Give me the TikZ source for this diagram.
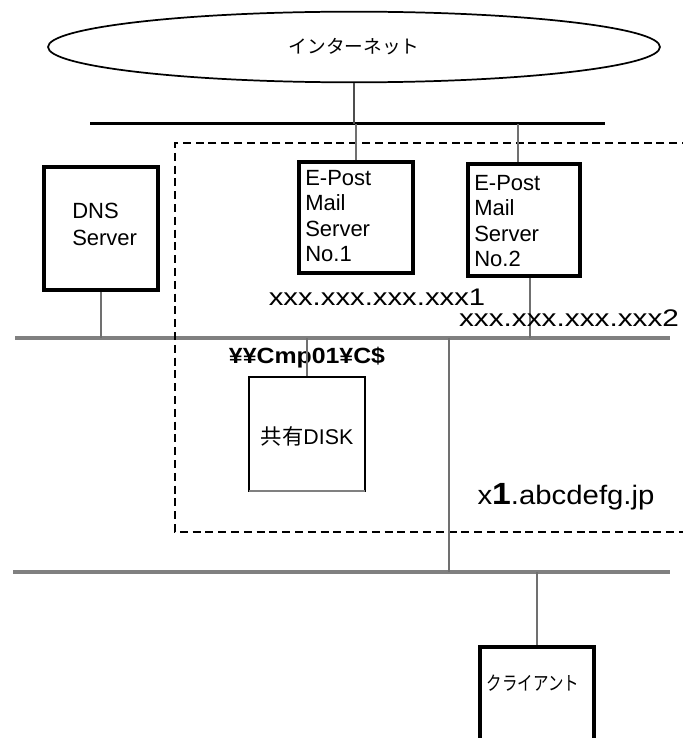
\documentclass[tikz,border=0pt]{standalone}
\usepackage{fontspec}
\setmainfont{Liberation Sans}
\newfontfamily\cjk{Noto Sans CJK JP}
\usetikzlibrary{shapes.geometric,calc}
\definecolor{busgray}{HTML}{808080}
\definecolor{stubgray}{HTML}{707070}
\begin{document}
\begin{tikzpicture}[x=0.75pt,y=-0.75pt,
  srv/.style={draw=black,line width=3pt,fill=white,inner sep=0pt},
  thinbox/.style={draw=black,line width=1.5pt,fill=white,inner sep=0pt},
  bus/.style={draw=busgray,line width=3pt},
  stub/.style={draw=stubgray,line width=1.8pt},
  boxtext/.style={align=left,anchor=north west,inner sep=0pt,
    font=\fontsize{16.5}{19}\selectfont},
  iplabel/.style={inner sep=0pt,font=\fontsize{18}{20}\selectfont}]
\useasboundingbox (0,0) rectangle (682,738);

% internet
\node[ellipse,draw=black,line width=1.3pt,minimum width=459pt,minimum height=53pt,inner sep=0pt]
  (net) at (354,47) {\cjk\fontsize{14}{16}\selectfont インターネット};

% buses
\coordinate (tbusL) at (90,124);
\coordinate (tbusR) at (605,124);
\draw[black,line width=2.25pt] (tbusL) -- (tbusR);
\coordinate (bus1L) at (15,338);
\coordinate (bus1R) at (670,338);
\draw[bus] (bus1L) -- (bus1R);
\coordinate (bus2L) at (13,572);
\coordinate (bus2R) at (670,572);
\draw[bus] (bus2L) -- (bus2R);

% domain (dashed)
\draw[black,line width=1.4pt,dash pattern=on 6pt off 3.6pt]
  (690,143) -- (175,143) -- (175,532) -- (690,532);

% servers
\node[srv,minimum width=85.5pt,minimum height=92.25pt] (dns) at (101,228.5) {};
\node[boxtext,font=\fontsize{16.5}{20.5}\selectfont] (dnst) at (72,203) {DNS\\Server};

\node[srv,minimum width=85.5pt,minimum height=83.25pt] (m1) at (356,217.5) {};
\node[boxtext] (m1t) at (305,170) {E-Post\\Mail\\Server\\No.1};

\node[srv,minimum width=84pt,minimum height=84pt] (m2) at (524,220) {};
\node[boxtext] (m2t) at (474,175) {E-Post\\Mail\\Server\\No.2};

\node[thinbox,minimum width=87pt,minimum height=85.5pt] (disk) at (307,434) {};
\draw[busgray,line width=2pt] ($(disk.south west)+(1,-1)$) -- ($(disk.south east)+(-1,-1)$);
\node[inner sep=0pt,font=\fontsize{16}{18}\selectfont] (diskt) at (307,436) {\cjk 共有\rmfamily DISK};

\node[srv,minimum width=85.5pt,minimum height=80pt] (cl) at (537,700) {};
\node[inner sep=0pt] (clt) at (533,683) {\scalebox{0.8}[1]{\cjk\fontsize{14.5}{16}\selectfont クライアント}};

% connectors
\draw[stubgray!70!black,line width=2.2pt] (net.south) -- (net.south |- tbusL);
\draw[stub] (m1.north) -- (m1.north |- tbusL);
\coordinate (m2top) at ($(m2.north)+(-6,0)$);
\draw[stub] (m2top) -- (m2top |- tbusL);

\draw[stub] (dns.south) -- (dns.south |- bus1L);
\draw[stub] ($(m1.south)+(-1,0)$) -- ($(m1.south)+(-1,0)$ |- bus1L);
\coordinate (m2bot) at ($(m2.south)+(6,0)$);
\draw[stub] (m2bot) -- (m2bot |- bus1L);

% labels
\node[iplabel] (ip1) at (377,297) {\scalebox{1.22}[1]{xxx.xxx.xxx.xxx1}};
\node[iplabel] (ip2) at (569,318) {\scalebox{1.24}[1]{xxx.xxx.xxx.xxx2}};
\node[inner sep=0pt,font=\bfseries\fontsize{16.5}{18}\selectfont] (share) at (307,358) {\scalebox{1.13}[1]{¥¥Cmp01¥C\$}};
\draw[stub,line width=1.5pt] (disk.north) -- (disk.north |- bus1L);

\node[inner sep=0pt,font=\fontsize{20}{22}\selectfont] (dom) at (566,497) {\scalebox{1.1}[1]{x{\bfseries\fontsize{23}{24}\selectfont 1}.abcdefg.jp}};

\coordinate (link) at (449,338);
\draw[stub] (link) -- (link |- bus2L);
\draw[stub] (cl.north) -- (cl.north |- bus2L);
\end{tikzpicture}
\end{document}
